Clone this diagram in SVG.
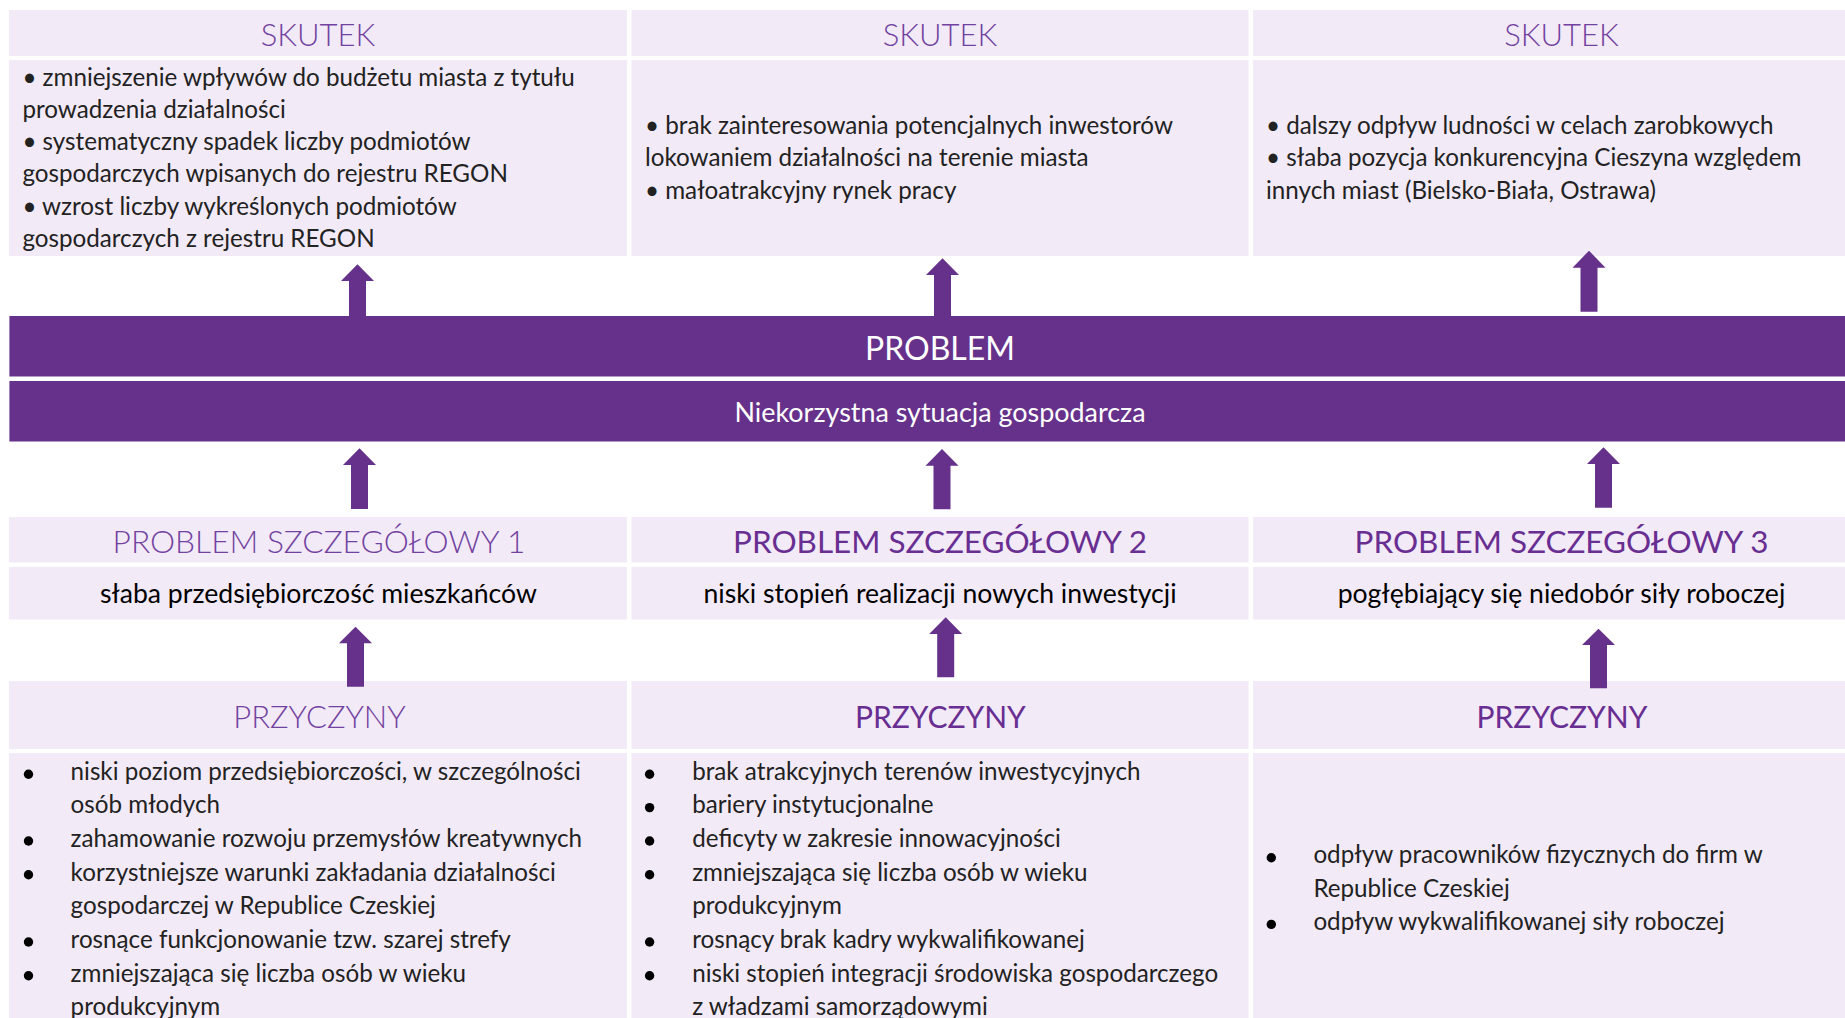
<svg xmlns="http://www.w3.org/2000/svg" width="1845" height="1018" viewBox="0 0 1845 1018">
<style>
.bg{fill:#F2EAF7}
.bar{fill:#66318A}
.arrow{fill:#66318A}
.hd{font-family:Lato,"Liberation Sans",sans-serif;font-size:31px;fill:#7242A0;font-weight:300;text-anchor:middle}
.hd2{font-family:Lato,"Liberation Sans",sans-serif;font-size:30px;fill:#692E92;font-weight:400;text-anchor:middle}
.ps{font-family:Lato,"Liberation Sans",sans-serif;font-size:31.7px;fill:#7242A0;font-weight:300;text-anchor:middle}
.ps2{font-family:Lato,"Liberation Sans",sans-serif;font-size:31.45px;fill:#692E92;font-weight:400;text-anchor:middle}
.body{font-family:Lato,"Liberation Sans",sans-serif;font-size:24.2px;fill:#222;font-weight:400}
.sub{font-family:Lato,"Liberation Sans",sans-serif;font-size:26.6px;fill:#000;font-weight:400;text-anchor:middle}
.bartxt{font-family:Lato,"Liberation Sans",sans-serif;fill:#fff;text-anchor:middle}
.dot{fill:#000}
</style>
<rect width="1845" height="1018" fill="#fff"/>
<g id="skutek1">
<rect class="bg" x="9" y="10" width="618" height="46"/>
<rect class="bg" x="9" y="60" width="618" height="196"/>
<text class="hd" x="318" y="45.7">SKUTEK</text>
<text class="body" x="22.4" y="86">• zmniejszenie wpływów do budżetu miasta z tytułu</text>
<text class="body" x="22.4" y="118">prowadzenia działalności</text>
<text class="body" x="22.4" y="150">• systematyczny spadek liczby podmiotów</text>
<text class="body" x="22.4" y="182.3">gospodarczych wpisanych do rejestru REGON</text>
<text class="body" x="22.4" y="214.5">• wzrost liczby wykreślonych podmiotów</text>
<text class="body" x="22.4" y="246.7">gospodarczych z rejestru REGON</text>
</g>
<g id="skutek2">
<rect class="bg" x="631.5" y="10" width="617" height="46"/>
<rect class="bg" x="631.5" y="60" width="617" height="196"/>
<text class="hd" x="940" y="45.7">SKUTEK</text>
<text class="body" x="645" y="134">• brak zainteresowania potencjalnych inwestorów</text>
<text class="body" x="645" y="166">lokowaniem działalności na terenie miasta</text>
<text class="body" x="645" y="198.5">• małoatrakcyjny rynek pracy</text>
</g>
<g id="skutek3">
<rect class="bg" x="1253" y="10" width="592" height="46"/>
<rect class="bg" x="1253" y="60" width="592" height="196"/>
<text class="hd" x="1561.5" y="45.7">SKUTEK</text>
<text class="body" x="1266" y="134">• dalszy odpływ ludności w celach zarobkowych</text>
<text class="body" x="1266" y="166">• słaba pozycja konkurencyjna Cieszyna względem</text>
<text class="body" x="1266" y="198.5">innych miast (Bielsko-Biała, Ostrawa)</text>
</g>
<g id="problem">
<rect class="bar" x="9.4" y="316" width="1835.6" height="60.5"/>
<text class="bartxt" x="940" y="360" font-size="32">PROBLEM</text>
</g>
<g id="problem-desc">
<rect class="bar" x="9.4" y="381" width="1835.6" height="60.5"/>
<text class="bartxt" x="940" y="421.7" font-size="26.9">Niekorzystna sytuacja gospodarcza</text>
</g>
<g id="ps1">
<rect class="bg" x="9" y="517" width="618" height="45.5"/>
<rect class="bg" x="9" y="567" width="618" height="52.5"/>
<text class="ps" x="319" y="553.3">PROBLEM SZCZEGÓŁOWY 1</text>
<text class="sub" x="318.4" y="603.3">słaba przedsiębiorczość mieszkańców</text>
</g>
<g id="ps2">
<rect class="bg" x="631.5" y="517" width="617" height="45.5"/>
<rect class="bg" x="631.5" y="567" width="617" height="52.5"/>
<text class="ps2" x="940" y="553.3">PROBLEM SZCZEGÓŁOWY 2</text>
<text class="sub" x="940" y="603.3">niski stopień realizacji nowych inwestycji</text>
</g>
<g id="ps3">
<rect class="bg" x="1253" y="517" width="592" height="45.5"/>
<rect class="bg" x="1253" y="567" width="592" height="52.5"/>
<text class="ps2" x="1561.5" y="553.3">PROBLEM SZCZEGÓŁOWY 3</text>
<text class="sub" x="1561.5" y="603.3">pogłębiający się niedobór siły roboczej</text>
</g>
<g id="przyczyny1">
<rect class="bg" x="9" y="681" width="618" height="68"/>
<rect class="bg" x="9" y="753" width="618" height="265"/>
<text class="hd" x="319.5" y="728.3">PRZYCZYNY</text>
<circle class="dot" cx="28.5" cy="774.3" r="4.7"/>
<circle class="dot" cx="28.5" cy="841" r="4.7"/>
<circle class="dot" cx="28.5" cy="874.8" r="4.7"/>
<circle class="dot" cx="28.5" cy="942" r="4.7"/>
<circle class="dot" cx="28.5" cy="975.8" r="4.7"/>
<text class="body" x="70.6" y="780">niski poziom przedsiębiorczości, w szczególności</text>
<text class="body" x="70.6" y="813.3">osób młodych</text>
<text class="body" x="70.6" y="846.7">zahamowanie rozwoju przemysłów kreatywnych</text>
<text class="body" x="70.6" y="880.5">korzystniejsze warunki zakładania działalności</text>
<text class="body" x="70.6" y="914">gospodarczej w Republice Czeskiej</text>
<text class="body" x="70.6" y="947.7">rosnące funkcjonowanie tzw. szarej strefy</text>
<text class="body" x="70.6" y="981.5">zmniejszająca się liczba osób w wieku</text>
<text class="body" x="70.6" y="1014.5">produkcyjnym</text>
</g>
<g id="przyczyny2">
<rect class="bg" x="631.5" y="681" width="617" height="68"/>
<rect class="bg" x="631.5" y="753" width="617" height="265"/>
<text class="hd2" x="940.4" y="728.3">PRZYCZYNY</text>
<circle class="dot" cx="649.6" cy="774.3" r="4.7"/>
<circle class="dot" cx="649.6" cy="807.6" r="4.7"/>
<circle class="dot" cx="649.6" cy="841" r="4.7"/>
<circle class="dot" cx="649.6" cy="874.8" r="4.7"/>
<circle class="dot" cx="649.6" cy="942" r="4.7"/>
<circle class="dot" cx="649.6" cy="975.8" r="4.7"/>
<text class="body" x="692.2" y="780">brak atrakcyjnych terenów inwestycyjnych</text>
<text class="body" x="692.2" y="813.3">bariery instytucjonalne</text>
<text class="body" x="692.2" y="846.7">deficyty w zakresie innowacyjności</text>
<text class="body" x="692.2" y="880.5">zmniejszająca się liczba osób w wieku</text>
<text class="body" x="692.2" y="914">produkcyjnym</text>
<text class="body" x="692.2" y="947.7">rosnący brak kadry wykwalifikowanej</text>
<text class="body" x="692.2" y="981.5">niski stopień integracji środowiska gospodarczego</text>
<text class="body" x="692.2" y="1014.5">z władzami samorządowymi</text>
</g>
<g id="przyczyny3">
<rect class="bg" x="1253" y="681" width="592" height="68"/>
<rect class="bg" x="1253" y="753" width="592" height="265"/>
<text class="hd2" x="1562" y="728.3">PRZYCZYNY</text>
<circle class="dot" cx="1271.3" cy="857.7" r="4.7"/>
<circle class="dot" cx="1271.3" cy="924.4" r="4.7"/>
<text class="body" x="1313.4" y="863.3">odpływ pracowników fizycznych do firm w</text>
<text class="body" x="1313.4" y="896.7">Republice Czeskiej</text>
<text class="body" x="1313.4" y="930">odpływ wykwalifikowanej siły roboczej</text>
</g>
<g id="connectors">
<polygon class="arrow" points="349,316 349,281 341,281 357.5,264.3 374,281 366,281 366,316"/>
<polygon class="arrow" points="934,316 934,275 926,275 942.5,258.3 959,275 951,275 951,316"/>
<polygon class="arrow" points="1580.5,311.7 1580.5,267.7 1572.5,267.7 1589,250.7 1605.5,267.7 1597.5,267.7 1597.5,311.7"/>
<polygon class="arrow" points="351,509 351,465 343,465 359.5,448.3 376,465 368,465 368,509"/>
<polygon class="arrow" points="933.5,509.3 933.5,465.7 925.5,465.7 942,449 958.5,465.7 950.5,465.7 950.5,509.3"/>
<polygon class="arrow" points="1595,507.7 1595,464 1587,464 1603.5,447.3 1620,464 1612,464 1612,507.7"/>
<polygon class="arrow" points="347,686.7 347,643.3 339,643.3 355.5,626.7 372,643.3 364,643.3 364,686.7"/>
<polygon class="arrow" points="937.2,677.3 937.2,634 929.2,634 945.7,617.3 962.2,634 954.2,634 954.2,677.3"/>
<polygon class="arrow" points="1590,688.3 1590,645 1582,645 1598.5,628.7 1615,645 1607,645 1607,688.3"/>
</g>
</svg>
